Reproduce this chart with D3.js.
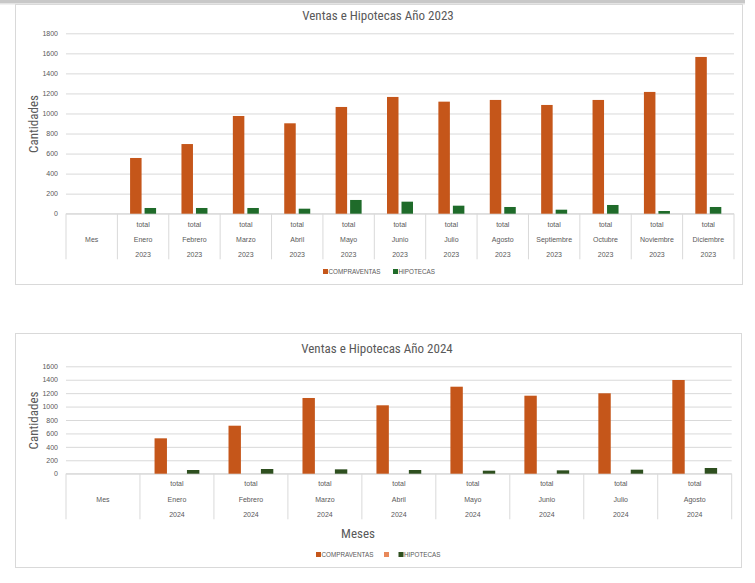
<!DOCTYPE html>
<html>
<head>
<meta charset="utf-8">
<script src="https://cdn.jsdelivr.net/npm/d3@7"></script>
<style>
  html, body { margin: 0; padding: 0; background: #ffffff; }
  svg { display: block; }
</style>
</head>
<body>
<svg id="chart" width="755" height="583"></svg>
<script>
// ---------- DATA ----------
const months2023 = ["Enero","Febrero","Marzo","Abril","Mayo","Junio","Julio","Agosto","Septiembre","Octubre","Noviembre","Diciembre"];
const compraventas2023 = [556, 695, 975, 902, 1065, 1165, 1118, 1135, 1085, 1135, 1215, 1564];
const hipotecas2023 = [57, 57, 57, 50, 137, 120, 80, 67, 40, 87, 27, 67];
const yTicks2023 = [0, 200, 400, 600, 800, 1000, 1200, 1400, 1600, 1800];

const months2024 = ["Enero","Febrero","Marzo","Abril","Mayo","Junio","Julio","Agosto"];
const compraventas2024 = [527, 715, 1128, 1019, 1296, 1162, 1198, 1396];
const vacia2024 = [null, null, null, null, null, null, null, null];
const hipotecas2024 = [55, 70, 65, 55, 45, 50, 60, 85];
const yTicks2024 = [0, 200, 400, 600, 800, 1000, 1200, 1400, 1600];

const title2023 = "Ventas e Hipotecas Año 2023";
const title2024 = "Ventas e Hipotecas Año 2024";
const yTitle = "Cantidades";
const xTitle = "Meses";
const firstCat = "Mes";
const rowLabel = "total";

const svg = d3.select("#chart");
const TXT = "#595959";
const GRID = "#d9d9d9";
const NARROW = "'Liberation Sans Narrow', 'Arial Narrow', 'Roboto Condensed', sans-serif";
const SANS = "'Liberation Sans', Arial, sans-serif";

// top shadow of a previous element
svg.append("rect").attr("x", 0).attr("y", 0).attr("width", 745).attr("height", 3).attr("fill", "#c8c8c8");
svg.append("rect").attr("x", 0).attr("y", 3).attr("width", 745).attr("height", 1.5).attr("fill", "#e4e4e4");

function drawChart(cfg) {
  const g = svg.append("g");
  // frame
  g.append("rect").attr("x", cfg.box[0] + 0.5).attr("y", cfg.box[1] + 0.5)
    .attr("width", cfg.box[2]).attr("height", cfg.box[3])
    .attr("fill", "#fff").attr("stroke", "#d9d9d9").attr("stroke-width", 1);

  const cats = [firstCat].concat(cfg.months);
  const x = d3.scaleBand().domain(cats).range([cfg.x0, cfg.x1]).padding(0);
  const y = d3.scaleLinear().domain([0, cfg.yMax]).range([cfg.yZero, cfg.yTop]);

  // gridlines via axis
  const yAxis = d3.axisLeft(y).tickValues(cfg.ticks).tickFormat(d3.format("d"))
    .tickSize(-(cfg.x1 - cfg.x0)).tickPadding(8);
  const ya = g.append("g").attr("transform", `translate(${cfg.x0},0)`).call(yAxis);
  ya.select(".domain").remove();
  ya.selectAll(".tick line").attr("stroke", GRID).attr("stroke-width", 1);
  ya.selectAll(".tick text").attr("fill", TXT).attr("font-size", 7).attr("font-family", SANS);

  // category axis table
  const lineBottom = cfg.rows[2] + 5;
  g.append("line").attr("x1", cfg.x0).attr("x2", cfg.x1).attr("y1", cfg.yZero).attr("y2", cfg.yZero)
    .attr("stroke", GRID).attr("stroke-width", 1);
  const bounds = cats.map(c => x(c)).concat([cfg.x1]);
  g.selectAll(".vline").data(bounds).join("line")
    .attr("x1", d => d).attr("x2", d => d).attr("y1", cfg.yZero).attr("y2", lineBottom)
    .attr("stroke", GRID).attr("stroke-width", 1);

  const lab = g.append("g").attr("font-family", SANS).attr("font-size", 7).attr("fill", TXT).attr("text-anchor", "middle");
  lab.append("text").attr("x", x(firstCat) + x.bandwidth() / 2).attr("y", cfg.rows[1]).attr("dy", "0.35em").text(firstCat);
  cfg.months.forEach(m => {
    const cx = x(m) + x.bandwidth() / 2;
    lab.append("text").attr("x", cx).attr("y", cfg.rows[0]).attr("dy", "0.35em").text(rowLabel);
    lab.append("text").attr("x", cx).attr("y", cfg.rows[1]).attr("dy", "0.35em").text(m);
    lab.append("text").attr("x", cx).attr("y", cfg.rows[2]).attr("dy", "0.35em").text(cfg.year);
  });

  // bars
  const xs = d3.scaleBand().domain(cfg.series.map(s => s.name)).range([-cfg.group / 2, cfg.group / 2]).paddingInner(cfg.pin).paddingOuter(0);
  cfg.series.forEach(s => {
    g.append("g").selectAll("rect").data(cfg.months.map((m, i) => ({ m, v: s.values[i] })).filter(d => d.v != null))
      .join("rect")
      .attr("x", d => x(d.m) + x.bandwidth() / 2 + xs(s.name))
      .attr("width", xs.bandwidth())
      .attr("y", d => y(d.v))
      .attr("height", d => y(0) - y(d.v))
      .attr("fill", s.color);
  });

  // title
  g.append("text").attr("x", cfg.title[1]).attr("y", cfg.title[2]).attr("dy", "0.35em")
    .attr("text-anchor", "middle").attr("font-family", NARROW).attr("font-size", 13).attr("fill", TXT).text(cfg.title[0]);
  // y title
  g.append("text").attr("transform", `translate(${cfg.yTitlePos[0]},${cfg.yTitlePos[1]}) rotate(-90)`)
    .attr("dy", "0.35em").attr("text-anchor", "middle").attr("font-family", NARROW).attr("font-size", 13).attr("fill", TXT).text(yTitle);
  if (cfg.xTitlePos) {
    g.append("text").attr("x", cfg.xTitlePos[0]).attr("y", cfg.xTitlePos[1]).attr("dy", "0.35em")
      .attr("text-anchor", "middle").attr("font-family", NARROW).attr("font-size", 13).attr("fill", TXT).text(xTitle);
  }

  // legend
  cfg.legend.forEach(l => {
    const s = cfg.series.find(d => d.name === l.name);
    g.append("rect").attr("x", l.x).attr("y", cfg.legendY - 2.5).attr("width", 5).attr("height", 5).attr("fill", s.color);
    g.append("text").attr("x", l.x + 5.5).attr("y", cfg.legendY).attr("dy", "0.35em")
      .attr("font-family", SANS).attr("font-size", 6.3).attr("fill", TXT).text(s.label);
  });
}

drawChart({
  box: [15, 4, 727, 280],
  months: months2023, year: "2023",
  x0: 66, x1: 734, yZero: 213.7, yTop: 33.3, yMax: 1800, ticks: yTicks2023,
  rows: [224.3, 239.3, 254.3],
  group: 26, pin: 0.207,
  series: [
    { name: "c", label: "COMPRAVENTAS", values: compraventas2023, color: "#c5561a" },
    { name: "h", label: "HIPOTECAS", values: hipotecas2023, color: "#1f6b2a" }
  ],
  title: [title2023, 378, 15],
  yTitlePos: [33, 124],
  legendY: 271.5,
  legend: [{ name: "c", x: 323 }, { name: "h", x: 393 }]
});

drawChart({
  box: [15, 333, 726, 234],
  months: months2024, year: "2024",
  x0: 66, x1: 731.7, yZero: 473.7, yTop: 366.3, yMax: 1600, ticks: yTicks2024,
  rows: [483.3, 499.3, 514.3],
  group: 44.8, pin: 0.235,
  series: [
    { name: "c", label: "COMPRAVENTAS", values: compraventas2024, color: "#c5561a" },
    { name: "v", label: "", values: vacia2024, color: "#e8895a" },
    { name: "h", label: "HIPOTECAS", values: hipotecas2024, color: "#2e4f1f" }
  ],
  title: [title2024, 377, 348.5],
  yTitlePos: [33.5, 420.5],
  xTitlePos: [358, 533.5],
  legendY: 554.5,
  legend: [{ name: "c", x: 316 }, { name: "v", x: 384 }, { name: "h", x: 398.5 }]
});
</script>
</body>
</html>
